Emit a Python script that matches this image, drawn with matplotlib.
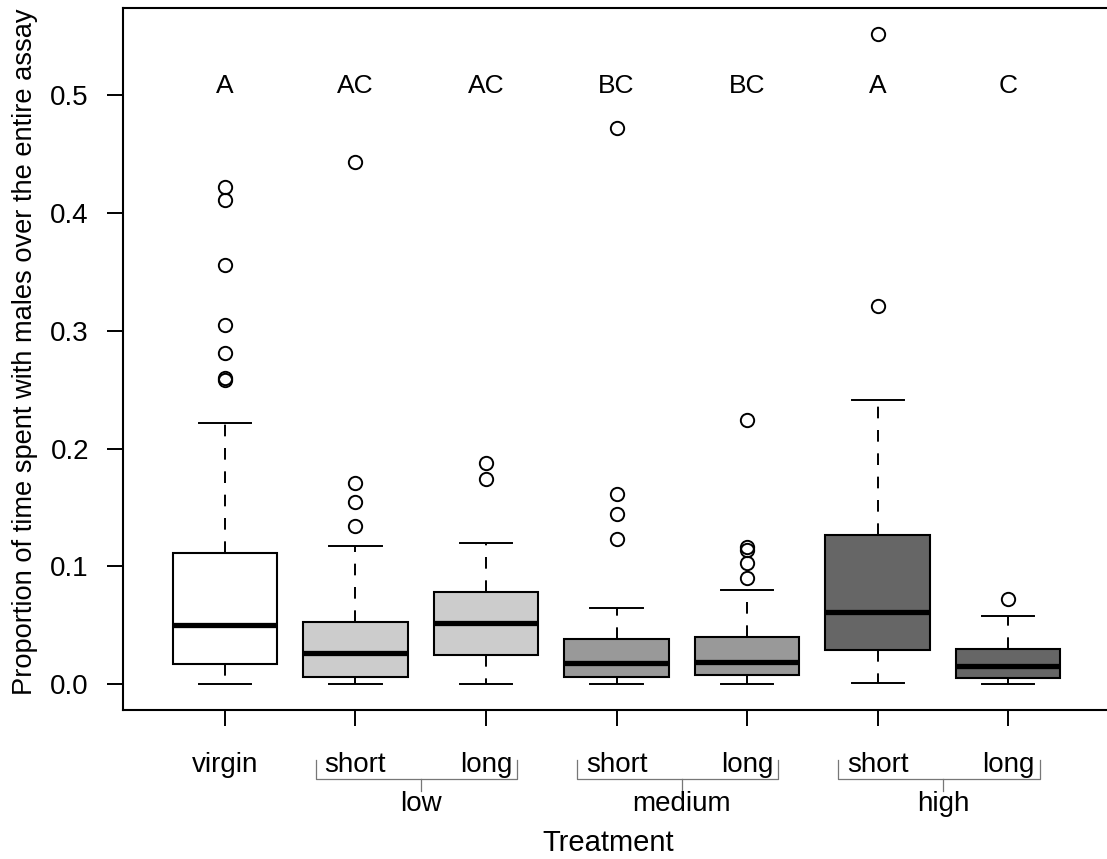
import matplotlib
matplotlib.use("Agg")
import matplotlib.pyplot as plt
from matplotlib.transforms import blended_transform_factory

plt.rcParams['font.family'] = ['Liberation Sans', 'DejaVu Sans']

# boxplot summaries
treatments = ["virgin", "short", "long", "short", "long", "short", "long"]
groups = ["low", "medium", "high"]
letters = ["A", "AC", "AC", "BC", "BC", "A", "C"]
fills = ["white", "#CCCCCC", "#CCCCCC", "#999999", "#999999", "#666666", "#666666"]

whislo = [0.0, 0.0, 0.0, 0.0, 0.0, 0.001, 0.0]
q1 = [0.017, 0.006, 0.025, 0.006, 0.008, 0.029, 0.005]
med = [0.050, 0.026, 0.052, 0.018, 0.019, 0.061, 0.0155]
q3 = [0.111, 0.053, 0.078, 0.038, 0.040, 0.127, 0.030]
whishi = [0.222, 0.117, 0.120, 0.065, 0.080, 0.241, 0.058]
outliers = [
    [0.422, 0.411, 0.356, 0.305, 0.281, 0.2595, 0.258],
    [0.443, 0.171, 0.155, 0.134],
    [0.188, 0.174],
    [0.472, 0.161, 0.144, 0.123],
    [0.2245, 0.116, 0.114, 0.103, 0.090],
    [0.552, 0.321],
    [0.0725],
]
yticks = [0.0, 0.1, 0.2, 0.3, 0.4, 0.5]
letter_y = 0.502

W, H = 1107, 859
fig = plt.figure(figsize=(W / 100, H / 100), dpi=100)
ax = fig.add_axes([123 / W, 149 / H, 987 / W, 702 / H])

positions = list(range(1, len(treatments) + 1))
stats = []
for i in range(len(treatments)):
    stats.append(dict(whislo=whislo[i], q1=q1[i], med=med[i], q3=q3[i],
                      whishi=whishi[i], fliers=outliers[i]))

bp = ax.bxp(stats, positions=positions, widths=0.8, capwidths=0.4, patch_artist=True,
            boxprops=dict(linewidth=1.5, edgecolor="black"),
            medianprops=dict(color="black", linewidth=3.8, solid_capstyle="butt"),
            whiskerprops=dict(linestyle=(0, (6, 6)), linewidth=1.4, color="black"),
            capprops=dict(linewidth=1.4, color="black"),
            flierprops=dict(marker="o", markersize=9.6, markerfacecolor="none",
                            markeredgecolor="black", markeredgewidth=1.4))
for box, c in zip(bp["boxes"], fills):
    box.set_facecolor(c)

ax.set_xlim(0.22, 7.78)
ax.set_ylim(-0.022, 0.574)
for s in ax.spines.values():
    s.set_linewidth(1.5)

ax.set_yticks(yticks)
ax.set_yticklabels([f"{v:.1f}" for v in yticks], fontsize=20)
ax.set_xticks(positions)
ax.set_xticklabels([])
ax.tick_params(axis="both", direction="out", length=11.5, width=1.4, pad=13)

# significance letters
for p, lab in zip(positions, letters):
    ax.text(p, letter_y, lab, ha="center", va="baseline", fontsize=19)

# x labels, brackets and group names below the axis
tr = blended_transform_factory(ax.transData, fig.transFigure)
fy = lambda px: 1 - px / H
for p, lab in zip(positions, treatments):
    ax.text(p, fy(772), lab, transform=tr, ha="center", va="baseline", fontsize=20)

for i, g in enumerate(groups):
    left, right = positions[1 + 2 * i], positions[2 + 2 * i]
    x0, x1 = left - 0.30, right + 0.24
    mid = (left + right) / 2
    ax.plot([x0, x0, x1, x1], [fy(760), fy(779), fy(779), fy(760)], transform=tr,
            color="#777777", lw=0.9, clip_on=False)
    ax.plot([mid, mid], [fy(779), fy(791)], transform=tr,
            color="#777777", lw=0.9, clip_on=False)
    ax.text(mid, fy(811), g, transform=tr, ha="center", va="baseline", fontsize=20)

fig.text(608 / W, fy(851), "Treatment", ha="center", va="baseline", fontsize=21)
fig.text(25 / W, fy(352), "Proportion of time spent with males over the entire assay",
         rotation=90, ha="center", va="center", fontsize=19.6)

fig.savefig("out.png", dpi=100)
